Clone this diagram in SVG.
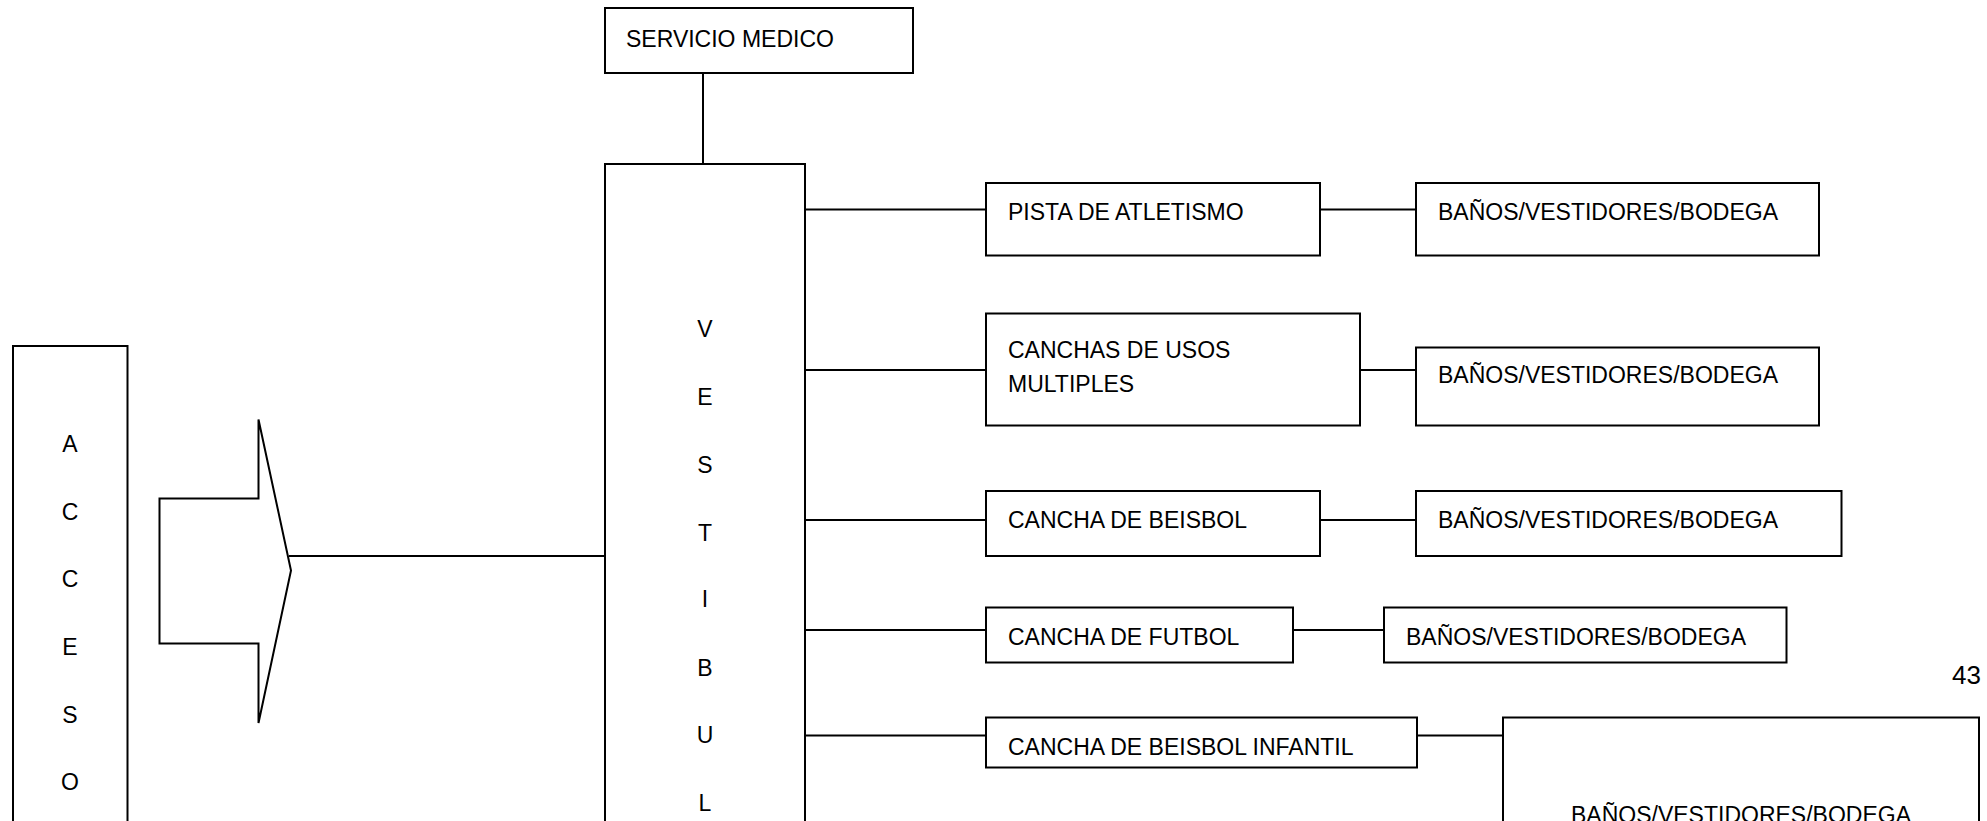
<svg xmlns="http://www.w3.org/2000/svg" width="1987" height="821" viewBox="0 0 1987 821">
<style>
  .box{fill:#fff;stroke:#000;stroke-width:2}
  .ln{fill:none;stroke:#000;stroke-width:2}
  text{font-family:"Liberation Sans",Arial,sans-serif;font-size:23px;fill:#000}
  .c{text-anchor:middle}
</style>
<rect width="1987" height="821" fill="#fff"/>
<g id="connectors">
  <line class="ln" x1="703" y1="73" x2="703" y2="164"/>
  <line class="ln" x1="289" y1="556" x2="605" y2="556"/>
  <line class="ln" x1="805" y1="209.5" x2="986" y2="209.5"/>
  <line class="ln" x1="805" y1="370" x2="986" y2="370"/>
  <line class="ln" x1="805" y1="520" x2="986" y2="520"/>
  <line class="ln" x1="805" y1="630" x2="986" y2="630"/>
  <line class="ln" x1="805" y1="735.5" x2="986" y2="735.5"/>
  <line class="ln" x1="1320" y1="209.5" x2="1416" y2="209.5"/>
  <line class="ln" x1="1360" y1="370" x2="1416" y2="370"/>
  <line class="ln" x1="1320" y1="520" x2="1416" y2="520"/>
  <line class="ln" x1="1293" y1="630" x2="1384" y2="630"/>
  <line class="ln" x1="1417" y1="735.5" x2="1503" y2="735.5"/>
</g>
<g id="acceso">
  <rect class="box" x="13" y="346" width="114.5" height="490"/>
  <text class="c" x="70" y="452">A</text>
  <text class="c" x="70" y="520">C</text>
  <text class="c" x="70" y="587">C</text>
  <text class="c" x="70" y="655">E</text>
  <text class="c" x="70" y="723">S</text>
  <text class="c" x="70" y="790">O</text>
</g>
<g id="arrow">
  <polygon class="box" points="159.5,498.5 258.5,498.5 258.5,419.5 291,570.5 258.5,723 258.5,643.5 159.5,643.5"/>
</g>
<g id="servicio-medico">
  <rect class="box" x="605" y="8" width="308" height="65"/>
  <text x="626" y="47">SERVICIO MEDICO</text>
</g>
<g id="vestibulo">
  <rect class="box" x="605" y="164" width="200" height="680"/>
  <text class="c" x="705" y="337">V</text>
  <text class="c" x="705" y="405">E</text>
  <text class="c" x="705" y="473">S</text>
  <text class="c" x="705" y="541">T</text>
  <text class="c" x="705" y="607">I</text>
  <text class="c" x="705" y="676">B</text>
  <text class="c" x="705" y="743">U</text>
  <text class="c" x="705" y="811">L</text>
</g>
<g id="pista">
  <rect class="box" x="986" y="183" width="334" height="72.5"/>
  <text x="1008" y="220">PISTA DE ATLETISMO</text>
</g>
<g id="banos-1">
  <rect class="box" x="1416" y="183" width="403" height="72.5"/>
  <text x="1438" y="220">BAÑOS/VESTIDORES/BODEGA</text>
</g>
<g id="canchas-usos">
  <rect class="box" x="986" y="313.5" width="374" height="112"/>
  <text x="1008" y="358">CANCHAS DE USOS</text>
  <text x="1008" y="392">MULTIPLES</text>
</g>
<g id="banos-2">
  <rect class="box" x="1416" y="347.5" width="403" height="78"/>
  <text x="1438" y="383">BAÑOS/VESTIDORES/BODEGA</text>
</g>
<g id="beisbol">
  <rect class="box" x="986" y="491" width="334" height="65"/>
  <text x="1008" y="528">CANCHA DE BEISBOL</text>
</g>
<g id="banos-3">
  <rect class="box" x="1416" y="491" width="425.5" height="65"/>
  <text x="1438" y="528">BAÑOS/VESTIDORES/BODEGA</text>
</g>
<g id="futbol">
  <rect class="box" x="986" y="607.5" width="307" height="55"/>
  <text x="1008" y="645">CANCHA DE FUTBOL</text>
</g>
<g id="banos-4">
  <rect class="box" x="1384" y="607.5" width="402.5" height="55"/>
  <text x="1406" y="645">BAÑOS/VESTIDORES/BODEGA</text>
</g>
<g id="beisbol-infantil">
  <rect class="box" x="986" y="717.5" width="431" height="50"/>
  <text x="1008" y="755">CANCHA DE BEISBOL INFANTIL</text>
</g>
<g id="banos-5">
  <rect class="box" x="1503" y="717.5" width="476" height="140"/>
  <text class="c" x="1741" y="823">BAÑOS/VESTIDORES/BODEGA</text>
</g>
<text id="page-number" x="1952" y="684" style="font-size:26px">43</text>
</svg>
